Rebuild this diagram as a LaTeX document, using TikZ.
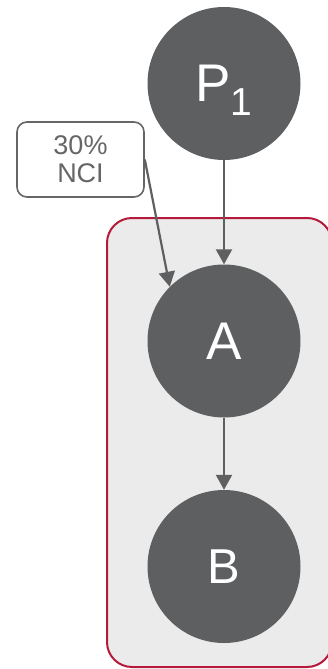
\documentclass[tikz,border=0pt]{standalone}
\usepackage{fontspec}
\setmainfont{Liberation Sans}
\usetikzlibrary{arrows.meta}
\definecolor{nodegray}{RGB}{94,95,97}
\definecolor{boxgray}{RGB}{102,102,102}
\definecolor{groupfill}{RGB}{235,235,235}
\definecolor{grouprim}{RGB}{181,26,59}
\begin{document}
\begin{tikzpicture}[x=1pt,y=-1pt,
  var/.style={circle, fill=nodegray, minimum size=153pt, inner sep=0pt, text=white},
  link/.style={draw=nodegray, line width=2.2pt, -{Triangle[width=16pt,length=15pt]}},
  tag/.style={draw=boxgray, line width=1.6pt, rounded corners=10pt, fill=white,
    minimum width=127pt, minimum height=75pt, inner sep=0pt, text=boxgray,
    align=center, font=\fontsize{27}{28}\selectfont}
]
% canvas
\fill[white] (0,0) rectangle (327,669);
\useasboundingbox (0,0) rectangle (327,669);
% group plate
\draw[fill=groupfill, draw=grouprim, line width=2pt, rounded corners=25pt]
  (107,218) rectangle (332,667);
% variables
\node[var, font=\fontsize{53}{53}\selectfont] (P) at (224,83.5)
  {P\raisebox{-14pt}[0pt][0pt]{\fontsize{39}{39}\selectfont 1}};
\node[var, font=\fontsize{53}{53}\selectfont] (A) at (224,341) {A};
\node[var, font=\fontsize{49}{49}\selectfont] (B) at (224,566.5) {B};
% label
\node[tag] (lbl) at (80.5,159.5) {30\%\\NCI};
% connectors
\draw[link] (P) -- (A);
\draw[link] (A) -- (B);
\draw[link] (lbl.east) -- (A.135);
\end{tikzpicture}
\end{document}
